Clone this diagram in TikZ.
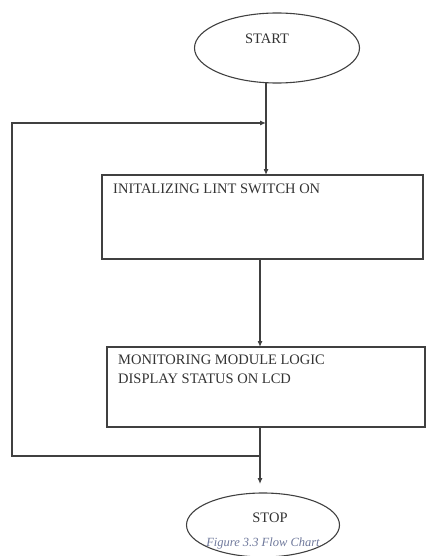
\documentclass[tikz,border=0pt]{standalone}
\usepackage{fontspec}
\setmainfont{Liberation Serif}
\usetikzlibrary{shapes.geometric,arrows.meta}
\definecolor{capcol}{RGB}{110,120,155}
\begin{document}
\begin{tikzpicture}[x=1pt,y=-1pt,
  line/.style={draw=black!75,line width=1.1pt},
  arr/.style={line,-{Latex[length=6pt,width=5pt]}},
  procbox/.style={line,rectangle,inner sep=0pt},
  lbl/.style={font=\fontsize{14.5}{19}\selectfont,text=black!80,align=left,anchor=north west,inner sep=0pt},
  termtxt/.style={font=\fontsize{14.5}{16}\selectfont,text=black!80}]
\useasboundingbox (0,0) rectangle (426,556);
% START
\node[line,ellipse,minimum width=165pt,minimum height=70pt] (start) at (277,48) {};
\node[termtxt] (starttxt) at (267,39) {START};
% Box 1
\node[procbox,minimum width=321pt,minimum height=84pt] (b1) at (262.5,217) {};
\node[lbl] (t1) at (113,184) {INITALIZING LINT SWITCH ON};
% Box 2
\node[procbox,minimum width=318pt,minimum height=80pt] (b2) at (266,387) {};
\node[lbl] (t2) at (118,355) {MONITORING MODULE LOGIC\\DISPLAY STATUS ON LCD};
% STOP
\node[line,ellipse,minimum width=153pt,minimum height=64pt] (stop) at (263,525) {};
\node[termtxt] (stoptxt) at (270,518) {STOP};
\node[font=\itshape\fontsize{12.5}{14}\selectfont,text=capcol] (cap) at (263,543) {Figure 3.3 Flow Chart};
% coordinates
\coordinate (s1) at (266,83);
\coordinate (j1) at (266,123);
\coordinate (b1in) at (266,175);
\coordinate (b1out) at (260,259);
\coordinate (b2in) at (260,347);
\coordinate (b2out) at (260,427);
\coordinate (j2) at (260,456);
\coordinate (stopin) at (260,484);
\coordinate (c1) at (12,456);
\coordinate (c2) at (12,123);
% connectors
\draw[arr] (s1) -- (b1in);
\draw[arr] (b1out) -- (b2in);
\draw[arr] (b2out) -- (stopin);
\draw[arr] (j2) -- (c1) -- (c2) -- (j1);
\end{tikzpicture}
\end{document}
